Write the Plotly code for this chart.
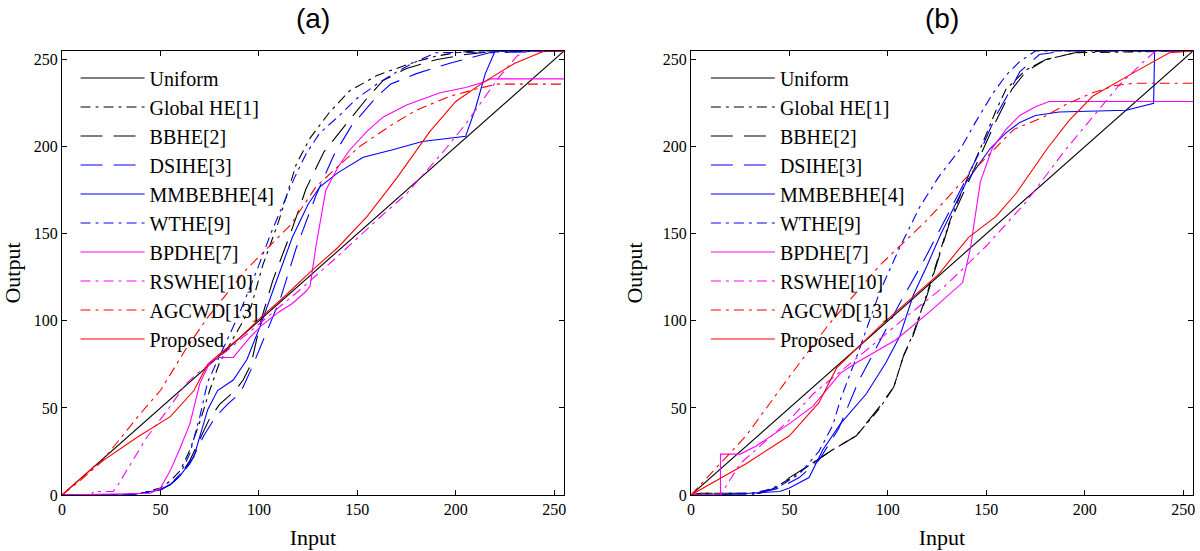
import plotly.graph_objects as go

# ---------------- data: panel (a) ----------------
a_uni_x = [0, 255]
a_uni_y = [0, 255]
a_ghe_x = [0, 30, 40, 50, 55, 60, 65, 70, 75, 80, 85, 90, 96, 102, 110, 119, 126, 136, 146, 160, 170, 180, 190, 200, 210, 255]
a_ghe_y = [0, 0, 1, 4, 8, 14, 26, 42, 60, 76, 86, 96, 108, 132, 157, 190, 205, 220, 232, 241, 245, 249, 252, 254, 255, 255]
a_bbhe_x = [0, 30, 40, 50, 55, 60, 65, 70, 75, 80, 85, 88, 92, 96, 101, 107, 116, 124, 133, 146, 155, 163, 175, 190, 205, 220, 255]
a_bbhe_y = [0, 0, 1, 3, 6, 11, 20, 32, 44, 52, 57, 60, 66, 75, 100, 123, 150, 176, 197, 215, 228, 238, 245, 250, 253, 255, 255]
a_dsihe_x = [0, 30, 40, 50, 55, 60, 65, 72, 78, 84, 88, 92, 96, 102, 111, 119, 129, 138, 147, 160, 167, 180, 197, 217, 255]
a_dsihe_y = [0, 0, 1, 3, 6, 11, 18, 34, 45, 52, 56, 62, 72, 88, 113, 142, 172, 195, 212, 229, 236, 242, 248, 254, 255]
a_mmbe_x = [0, 30, 40, 50, 55, 60, 67, 74, 79, 87, 94, 101, 108, 117, 125, 131, 140, 153, 167, 183, 205, 210, 215, 220, 255]
a_mmbe_y = [0, 0, 1, 3, 6, 11, 22, 49, 60, 66, 78, 98, 120, 148, 167, 177, 185, 194, 198, 203, 206, 222, 242, 255, 255]
a_wthe_x = [0, 30, 40, 50, 55, 60, 65, 70, 74, 80, 85, 90, 95, 100, 106, 112, 118, 124, 131, 141, 150, 160, 170, 180, 190, 255]
a_wthe_y = [0, 0, 1, 3, 6, 12, 24, 45, 65, 80, 92, 104, 118, 132, 150, 166, 182, 196, 208, 218, 228, 236, 243, 249, 254, 255]
a_bpdhe_x = [0, 45, 50, 55, 60, 65, 70, 75, 79, 87, 95, 101, 110, 117, 124, 126, 129, 134, 140, 146, 155, 163, 175, 192, 205, 214, 218, 255]
a_bpdhe_y = [0, 1, 4, 14, 27, 41, 64, 76, 79, 79, 90, 97, 105, 110, 117, 120, 143, 175, 188, 198, 209, 217, 224, 231, 234, 237, 239, 239]
a_rswhe_x = [0, 15, 16, 26, 28, 35, 43, 55, 63, 70, 75, 85, 100, 120, 140, 160, 175, 185, 195, 205, 213, 222, 231, 236, 255]
a_rswhe_y = [0, 0, 2, 2, 5, 18, 33, 51, 64, 71, 75, 84, 98, 117, 137, 158, 173, 186, 199, 213, 226, 240, 252, 255, 255]
a_agcwd_x = [0, 10, 20, 28, 40, 50, 63, 74, 94, 116, 129, 151, 168, 180, 197, 210, 221, 255]
a_agcwd_y = [0, 9, 19, 30, 47, 60, 84, 102, 130, 155, 177, 200, 213, 221, 229, 233, 236, 236]
a_prop_x = [0, 16, 38, 55, 67, 74, 79, 90, 100, 113, 126, 140, 155, 170, 187, 200, 214, 230, 245, 255]
a_prop_y = [0, 16, 33, 45, 60, 75, 80, 90, 101, 114, 128, 142, 160, 182, 209, 226, 237, 248, 255, 255]

# ---------------- data: panel (b) ----------------
b_uni_x = [0, 255]
b_uni_y = [0, 255]
b_ghe_x = [0, 5, 11, 30, 40, 50, 60, 72, 84, 96, 103, 108, 113, 120, 131, 140, 147, 155, 160, 170, 180, 195, 255]
b_ghe_y = [0, 1, 1, 1, 3, 9, 17, 26, 34, 50, 62, 80, 93, 116, 156, 181, 199, 221, 233, 244, 250, 254, 255]
b_bbhe_x = [0, 5, 11, 35, 45, 50, 60, 72, 84, 96, 103, 108, 113, 120, 131, 140, 147, 155, 163, 170, 180, 195, 210, 255]
b_bbhe_y = [0, 1, 1, 1, 5, 10, 17, 26, 34, 51, 62, 80, 92, 115, 155, 178, 195, 215, 233, 243, 250, 254, 255, 255]
b_dsihe_x = [0, 30, 45, 55, 65, 75, 85, 94, 106, 118, 130, 140, 148, 155, 162, 167, 177, 190, 255]
b_dsihe_y = [0, 0, 4, 10, 20, 38, 65, 84, 110, 134, 160, 182, 200, 218, 232, 243, 253, 255, 255]
b_mmbe_x = [0, 10, 30, 45, 50, 60, 67, 76, 89, 99, 106, 113, 120, 127, 140, 152, 160, 167, 175, 187, 221, 235, 235.5, 255]
b_mmbe_y = [0, 0, 1, 2, 4, 10, 26, 41, 58, 76, 91, 115, 132, 150, 180, 199, 208, 214, 218, 220, 221, 225, 255, 255]
b_wthe_x = [0, 30, 45, 55, 65, 72, 76, 85, 96, 106, 116, 126, 137, 145, 153, 160, 167, 175, 255]
b_wthe_y = [0, 0, 5, 12, 25, 40, 55, 82, 117, 142, 165, 183, 199, 215, 230, 241, 249, 255, 255]
b_bpdhe_x = [0, 15, 15, 25, 33, 50, 62, 76, 84, 104, 121, 138, 142, 147, 153, 160, 167, 175, 182, 255]
b_bpdhe_y = [0, 0, 23.5, 23.5, 28, 41, 51, 70, 76, 89, 105, 122, 142, 180, 199, 210, 218, 223, 226, 226]
b_rswhe_x = [0, 15, 25, 37, 50, 62, 75, 90, 110, 130, 150, 170, 190, 204, 218, 231, 236, 255]
b_rswhe_y = [0, 0, 18, 30, 43, 58, 70, 84, 103, 121, 143, 168, 198, 217, 236, 250, 255, 255]
b_agcwd_x = [0, 28, 50, 70, 96, 120, 137, 150, 159, 164, 179, 190, 204, 215, 225, 255]
b_agcwd_y = [0, 34, 68, 98, 132, 158, 179, 194, 204, 210, 217, 224, 231, 235, 236.5, 236.5]
b_prop_x = [0, 28, 50, 65, 74, 85, 96, 105, 113, 126, 141, 155, 165, 173, 181, 192, 204, 224, 243, 255]
b_prop_y = [0, 18, 34, 53, 73, 85, 97, 106, 114, 127, 148, 160, 173, 186, 199, 215, 229, 242, 254, 255]

names = ["Uniform", "Global HE[1]", "BBHE[2]", "DSIHE[3]", "MMBEBHE[4]",
         "WTHE[9]", "BPDHE[7]", "RSWHE[10]", "AGCWD[13]", "Proposed"]
ticks = [0, 50, 100, 150, 200, 250]

BLACK, BLUE, MAG, RED = "#000000", "#0000ff", "#ff00ff", "#ff0000"
DASHDOT = "10px,5px,3px,5px"
LONGDASH = "22px,11px"
styles = [(BLACK, "solid"), (BLACK, DASHDOT), (BLACK, LONGDASH), (BLUE, LONGDASH),
          (BLUE, "solid"), (BLUE, DASHDOT), (MAG, "solid"), (MAG, DASHDOT),
          (RED, DASHDOT), (RED, "solid")]

panel_a = [(a_uni_x, a_uni_y), (a_ghe_x, a_ghe_y), (a_bbhe_x, a_bbhe_y), (a_dsihe_x, a_dsihe_y),
           (a_mmbe_x, a_mmbe_y), (a_wthe_x, a_wthe_y), (a_bpdhe_x, a_bpdhe_y),
           (a_rswhe_x, a_rswhe_y), (a_agcwd_x, a_agcwd_y), (a_prop_x, a_prop_y)]
panel_b = [(b_uni_x, b_uni_y), (b_ghe_x, b_ghe_y), (b_bbhe_x, b_bbhe_y), (b_dsihe_x, b_dsihe_y),
           (b_mmbe_x, b_mmbe_y), (b_wthe_x, b_wthe_y), (b_bpdhe_x, b_bpdhe_y),
           (b_rswhe_x, b_rswhe_y), (b_agcwd_x, b_agcwd_y), (b_prop_x, b_prop_y)]

fig = go.Figure()
for panel, xa, ya, leg in [(panel_a, "x", "y", "legend"), (panel_b, "x2", "y2", "legend2")]:
    for i, ((xs, ys), (col, dash)) in enumerate(zip(panel, styles)):
        fig.add_trace(go.Scatter(
            x=xs, y=ys, mode="lines", name=names[i], xaxis=xa, yaxis=ya,
            legend=leg, legendgroup=leg + str(i),
            line=dict(color=col, width=1.1, dash=dash)))

SERIF = "Liberation Serif"
axis_common = dict(range=[0, 255], tickvals=ticks, ticks="inside", ticklen=5,
                   tickcolor="black", showline=True, linecolor="black", linewidth=1,
                   mirror="allticks", showgrid=False, zeroline=False, automargin=False,
                   tickfont=dict(family=SERIF, size=16, color="black"))

legend_common = dict(font=dict(family=SERIF, size=20, color="black"),
                     bgcolor="rgba(0,0,0,0)", borderwidth=0, traceorder="grouped",
                     tracegroupgap=0, itemwidth=64, xanchor="left", yanchor="top")

title_font = dict(family=SERIF, size=22, color="black")

fig.update_layout(
    width=1200, height=551, plot_bgcolor="white", paper_bgcolor="white",
    margin=dict(l=62, r=7, t=51, b=56),
    showlegend=True,
    xaxis=dict(domain=[0, 0.4439], anchor="y",
               title=dict(text="Input", font=title_font, standoff=12), **axis_common),
    yaxis=dict(domain=[0, 1], anchor="x",
               title=dict(text="Output", font=title_font, standoff=14), **axis_common),
    xaxis2=dict(domain=[0.5561, 1], anchor="y2",
                title=dict(text="Input", font=title_font, standoff=12), **axis_common),
    yaxis2=dict(domain=[0, 1], anchor="x2",
                title=dict(text="Output", font=title_font, standoff=14), **axis_common),
    legend=dict(x=0.012, y=0.983, **legend_common),
    legend2=dict(x=0.5693, y=0.983, **legend_common),
    annotations=[
        dict(text="(a)", x=0.222, y=1.074, xref="paper", yref="paper", showarrow=False,
             xanchor="center", yanchor="middle",
             font=dict(family="Liberation Sans", size=28, color="black")),
        dict(text="(b)", x=0.778, y=1.074, xref="paper", yref="paper", showarrow=False,
             xanchor="center", yanchor="middle",
             font=dict(family="Liberation Sans", size=28, color="black")),
    ],
)

# remove the page's default body margin so the figure fills the window exactly
fig.write_html("out.html", config={"displayModeBar": False},
               post_script="document.body.style.margin='0px';")
